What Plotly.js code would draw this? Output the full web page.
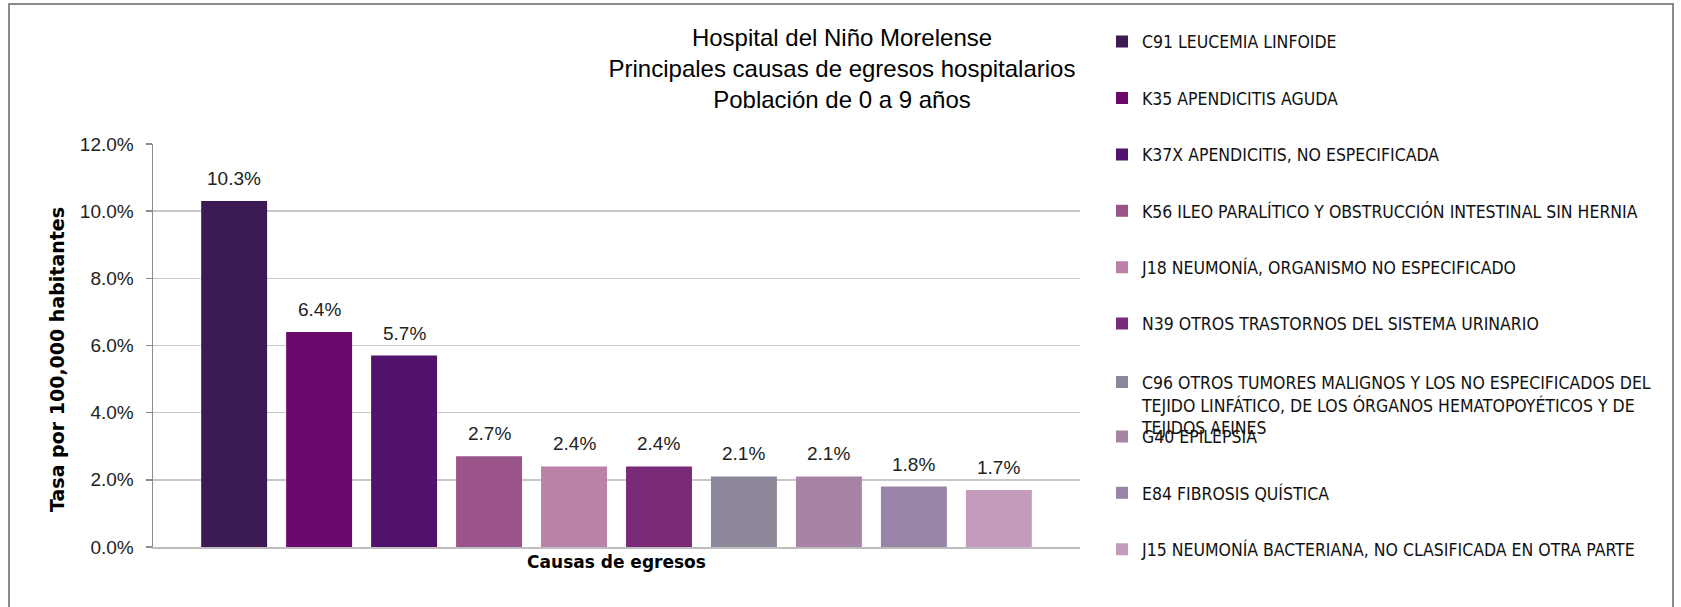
<!DOCTYPE html>
<html>
<head>
<meta charset="utf-8">
<script src="https://cdn.plot.ly/plotly-3.0.1.min.js"></script>
<style>html,body{margin:0;padding:0;background:#fff;}#chart{width:1681px;height:607px;}</style>
</head>
<body>
<div id="chart"></div>
<script>
// ---- data ----
const codes = ['C91', 'K35', 'K37X', 'K56', 'J18', 'N39', 'C96', 'G40', 'E84', 'J15'];
const causeNames = [
  'C91 LEUCEMIA LINFOIDE',
  'K35 APENDICITIS AGUDA',
  'K37X APENDICITIS, NO ESPECIFICADA',
  'K56 ILEO PARALÍTICO Y OBSTRUCCIÓN INTESTINAL SIN HERNIA',
  'J18 NEUMONÍA, ORGANISMO NO ESPECIFICADO',
  'N39 OTROS TRASTORNOS DEL SISTEMA URINARIO',
  'C96 OTROS TUMORES MALIGNOS Y LOS NO ESPECIFICADOS DEL<br>TEJIDO LINFÁTICO, DE LOS ÓRGANOS HEMATOPOYÉTICOS Y DE<br>TEJIDOS AFINES',
  'G40 EPILEPSIA',
  'E84 FIBROSIS QUÍSTICA',
  'J15 NEUMONÍA BACTERIANA, NO CLASIFICADA EN OTRA PARTE'
];
const rates = [0.103, 0.064, 0.057, 0.027, 0.024, 0.024, 0.021, 0.021, 0.018, 0.017];
const yTickValues = [0, 0.02, 0.04, 0.06, 0.08, 0.10, 0.12];
const yTitleText = 'Tasa por 100,000 habitantes';

// ---- styles ----
const barColors = ['#3c1b55', '#6b086b', '#50126b', '#9a5489', '#ba82a6', '#7a2b78', '#8e8699', '#a783a6', '#9784a7', '#c49bbb'];
const W = 1681, H = 607;
const M = {l: 153, r: 601, t: 144, b: 60};
const plotW = W - M.l - M.r, plotH = H - M.t - M.b;
const legendFirstY = 41.7, legendStep = 56.4;
const legendX = 1102;

const traces = [];
const layout = {
  width: W, height: H,
  margin: M,
  paper_bgcolor: '#ffffff',
  plot_bgcolor: '#ffffff',
  barmode: 'overlay',
  bargap: 0.224,
  font: {family: 'Liberation Sans, Arial, sans-serif', color: '#222222', size: 18},
  title: {
    text: 'Hospital del Niño Morelense<br>Principales causas de egresos hospitalarios<br>Población de 0 a 9 años',
    font: {family: 'Liberation Sans, Arial, sans-serif', size: 24, color: '#000000'},
    x: 842 / W, xref: 'container', xanchor: 'center',
    y: 1 - 46 / H, yref: 'container', yanchor: 'top'
  },
  xaxis: {
    type: 'category',
    categoryorder: 'array', categoryarray: codes,
    range: [-0.955, 9.955],
    showticklabels: false,
    ticks: '',
    showgrid: false,
    zeroline: false,
    showline: true, linecolor: '#bdbdbd', linewidth: 2,
    title: {text: 'Causas de egresos', font: {size: 17, color: '#000000', family: 'DejaVu Sans, sans-serif', weight: 'bold'}, standoff: 8},
    fixedrange: true
  },
  yaxis: {
    range: [0, 0.12],
    tickvals: yTickValues,
    tickformat: '.1%',
    ticks: 'outside', ticklen: 6, tickcolor: '#8c8c8c', tickwidth: 1.5,
    ticklabelstandoff: 8,
    tickfont: {size: 19, color: '#222222'},
    showgrid: true, gridcolor: '#c8c8c8', gridwidth: 1.5,
    zeroline: false,
    showline: true, linecolor: '#8c8c8c', linewidth: 1.5,
    fixedrange: true
  },
  annotations: [{
    xref: 'paper', yref: 'paper',
    x: (57 - M.l) / plotW, y: (H - M.b - 360) / plotH,
    xanchor: 'center', yanchor: 'middle',
    text: yTitleText, textangle: -90, showarrow: false,
    font: {size: 19, color: '#000000', family: 'DejaVu Sans, sans-serif', weight: 'bold'}
  }],
  shapes: [{
    type: 'rect', xref: 'paper', yref: 'paper', layer: 'above',
    x0: (9 - M.l) / plotW, x1: (1673 - M.l) / plotW,
    y0: (H - M.b - 640) / plotH, y1: (H - M.b - 4) / plotH,
    line: {color: '#8a8a8a', width: 2}, fillcolor: 'rgba(0,0,0,0)'
  }]
};

for (let i = 0; i < codes.length; i++) {
  const legKey = i === 0 ? 'legend' : 'legend' + (i + 1);
  traces.push({
    type: 'bar',
    x: [codes[i]],
    y: [rates[i]],
    name: causeNames[i],
    marker: {color: barColors[i], line: {width: 0}},
    legend: legKey,
    showlegend: true,
    hoverinfo: 'name+y'
  });
  const multiline = causeNames[i].indexOf('<br>') >= 0;
  const cy = legendFirstY + legendStep * i;
  layout[legKey] = {
    xref: 'container', yref: 'container',
    x: legendX / W, xanchor: 'left',
    y: 1 - (multiline ? cy - 16 : cy) / H, yanchor: multiline ? 'top' : 'middle',
    valign: 'top',
    bgcolor: 'rgba(0,0,0,0)', borderwidth: 0,
    font: {family: 'Liberation Sans Narrow, DejaVu Sans Condensed, Arial Narrow, sans-serif', size: 17.5, color: '#111111'},
    itemclick: false, itemdoubleclick: false
  };
  layout.annotations.push({
    x: codes[i], y: rates[i], xref: 'x', yref: 'y',
    text: (rates[i] * 100).toFixed(1) + '%',
    showarrow: false, yanchor: 'bottom', yshift: 10,
    font: {size: 19, color: '#222222'}
  });
}

Plotly.newPlot('chart', traces, layout, {displayModeBar: false, staticPlot: true});
</script>
</body>
</html>
